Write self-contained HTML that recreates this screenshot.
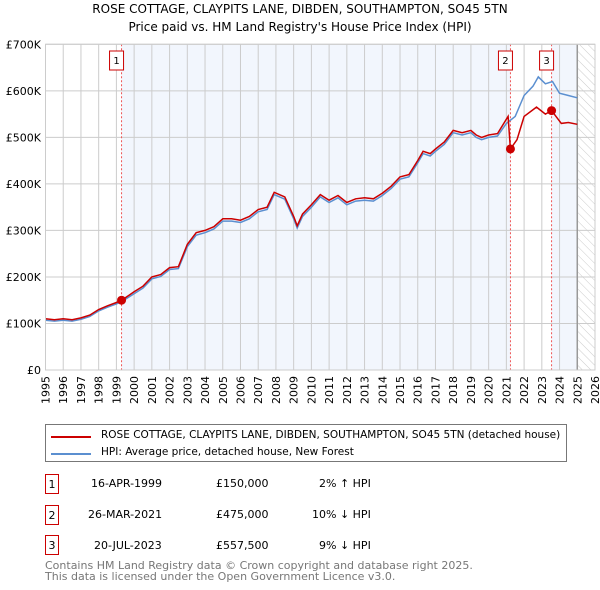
<!DOCTYPE html>
<html><head><meta charset="utf-8"><style>
body{margin:0;background:#fff;font-family:"DejaVu Sans","Liberation Sans",sans-serif;}
#wrap{position:relative;width:600px;height:590px;overflow:hidden}
.t{position:absolute;font-size:11px;color:#000;white-space:nowrap}
.box{position:absolute;border:1px solid #c00;width:14px;height:20px;font-size:11px;text-align:center;line-height:20px;box-sizing:border-box}
</style></head><body><div id="wrap">
<svg id="svg" width="600" height="420" style="position:absolute;left:0;top:0"></svg>
<div style="position:absolute;left:45px;top:424px;width:522px;height:38px;border:1px solid #777;box-sizing:border-box">
 <div style="position:absolute;left:5px;top:11px;width:40px;height:2px;background:#c00"></div>
 <div class="t" style="left:55px;top:4px;font-size:10.5px">ROSE COTTAGE, CLAYPITS LANE, DIBDEN, SOUTHAMPTON, SO45 5TN (detached house)</div>
 <div style="position:absolute;left:5px;top:28px;width:40px;height:2px;background:#5b8fd0"></div>
 <div class="t" style="left:55px;top:21px;font-size:10.5px">HPI: Average price, detached house, New Forest</div>
</div>
<div class="box" style="left:45px;top:474px">1</div>
<div class="t" style="left:91px;top:477px">16-APR-1999</div>
<div class="t" style="left:216px;top:477px">£150,000</div>
<div class="t" style="left:319px;top:477px">2% ↑ HPI</div>
<div class="box" style="left:45px;top:505px">2</div>
<div class="t" style="left:88px;top:508px">26-MAR-2021</div>
<div class="t" style="left:216px;top:508px">£475,000</div>
<div class="t" style="left:312px;top:508px">10% ↓ HPI</div>
<div class="box" style="left:45px;top:535px">3</div>
<div class="t" style="left:94px;top:539px">20-JUL-2023</div>
<div class="t" style="left:216px;top:539px">£557,500</div>
<div class="t" style="left:319px;top:539px">9% ↓ HPI</div>
<div class="t" style="left:45px;top:560px;color:#777;font-size:11px;line-height:11px">Contains HM Land Registry data © Crown copyright and database right 2025.<br>This data is licensed under the Open Government Licence v3.0.</div>
</div>
<script>
const hpiYears=[1995,1995.5,1996,1996.5,1997,1997.5,1998,1998.5,1999,1999.3,2000,2000.5,2001,2001.5,2002,2002.5,2003,2003.5,2004,2004.5,2005,2005.5,2006,2006.5,2007,2007.5,2007.9,2008.5,2009,2009.2,2009.5,2010,2010.5,2011,2011.5,2012,2012.5,2013,2013.5,2014,2014.5,2015,2015.5,2016,2016.3,2016.7,2017,2017.5,2018,2018.5,2019,2019.3,2019.6,2020,2020.5,2021,2021.5,2022,2022.5,2022.8,2023.2,2023.6,2024,2024.5,2025];
const hpiValues=[107,105,107,105,109,115,127,135,142,147,164,176,196,201,216,218,265,290,295,303,320,320,317,325,340,345,377,367,325,305,330,350,372,360,370,355,363,365,363,375,390,410,415,445,465,460,470,485,510,505,510,500,495,500,503,530,545,590,610,630,615,620,595,590,585];
const redYears=[1995,1995.5,1996,1996.5,1997,1997.5,1998,1998.5,1999,1999.3,2000,2000.5,2001,2001.5,2002,2002.5,2003,2003.5,2004,2004.5,2005,2005.5,2006,2006.5,2007,2007.5,2007.9,2008.5,2009,2009.2,2009.5,2010,2010.5,2011,2011.5,2012,2012.5,2013,2013.5,2014,2014.5,2015,2015.5,2016,2016.3,2016.7,2017,2017.5,2018,2018.5,2019,2019.3,2019.6,2020,2020.5,2021.1,2021.23,2021.6,2022,2022.7,2023.2,2023.55,2023.8,2024.1,2024.5,2025];
const redValues=[110,108,110,108,112,118,130,138,145,150,168,180,200,205,220,222,270,295,300,308,325,325,322,330,345,350,382,372,330,310,335,355,377,365,375,360,368,370,368,380,395,415,420,450,470,465,475,490,515,510,515,505,500,505,508,545,475,495,545,565,550,557.5,545,530,532,528];
const saleYears=[1999.29,2021.23,2023.55];
const saleValues=[150,475,557.5];
const saleLabels=["1","2","3"];
const yTicks=[0,100,200,300,400,500,600,700];
const yTickLabels=["£0","£100K","£200K","£300K","£400K","£500K","£600K","£700K"];
const xTicks=[1995,1996,1997,1998,1999,2000,2001,2002,2003,2004,2005,2006,2007,2008,2009,2010,2011,2012,2013,2014,2015,2016,2017,2018,2019,2020,2021,2022,2023,2024,2025,2026];
const X0=45.5,X1=595,Y0=370,Y1=44.3,XMIN=1995,XMAX=2026,YMAX=700;
const xs=v=>X0+(v-XMIN)/(XMAX-XMIN)*(X1-X0);
const ys=v=>Y0-v/YMAX*(Y0-Y1);
const svg=document.getElementById('svg');const NS='http://www.w3.org/2000/svg';
function mk(t,a,p){const e=document.createElementNS(NS,t);for(const k in a)e.setAttribute(k,a[k]);(p||svg).appendChild(e);return e;}
let e;
e=mk('defs',{});e.innerHTML='<pattern id="hatch" width="6" height="6" patternUnits="userSpaceOnUse" patternTransform="rotate(-45)"><line x1="0" y1="0" x2="0" y2="6" stroke="#ccc" stroke-width="1"/></pattern>';
e=mk('rect',{x:xs(saleYears[0]),y:Y1,width:xs(saleYears[1])-xs(saleYears[0]),height:Y0-Y1,fill:'#f2f6fd'});

e=mk('rect',{x:xs(saleYears[2]),y:Y1,width:xs(2025)-xs(saleYears[2]),height:Y0-Y1,fill:'#f2f6fd'});

e=mk('rect',{x:xs(2025),y:Y1,width:X1-xs(2025),height:Y0-Y1,fill:'url(#hatch)'});

xTicks.forEach(t=>{e=mk('line',{x1:xs(t),x2:xs(t),y1:Y1,y2:Y0,stroke:'#ccc','stroke-width':1});

const lx=xs(t)+4;
e=mk('text',{x:lx,y:376,'font-size':11,'text-anchor':'end','font-family':'DejaVu Sans, sans-serif',transform:'rotate(-90 '+lx+' 376)'});e.textContent=t;
});
yTicks.forEach((t,i)=>{e=mk('line',{x1:X0,x2:X1,y1:ys(t),y2:ys(t),stroke:'#ccc','stroke-width':1});

e=mk('text',{x:41,y:ys(t)+4,'font-size':11,'text-anchor':'end','font-family':'DejaVu Sans, sans-serif'});e.textContent=yTickLabels[i];
});
e=mk('line',{x1:xs(2025),x2:xs(2025),y1:Y1,y2:Y0,stroke:'#999','stroke-width':1.5});

saleYears.forEach(s=>{e=mk('line',{x1:xs(s),x2:xs(s),y1:Y1,y2:Y0,stroke:'#e55','stroke-width':1,'stroke-dasharray':'2,2'});
});
function path(xa,va){return xa.map((x,i)=>(i?'L':'M')+xs(x).toFixed(1)+','+ys(va[i]).toFixed(1)).join('');}
e=mk('path',{d:path(hpiYears,hpiValues),fill:'none',stroke:'#5b8fd0','stroke-width':1.5});

e=mk('path',{d:path(redYears,redValues),fill:'none',stroke:'#c00','stroke-width':1.5});

saleYears.forEach((s,i)=>{e=mk('circle',{cx:xs(s),cy:ys(saleValues[i]),r:4.5,fill:'#c00'});

e=mk('rect',{x:xs(s)-12,y:51,width:14,height:19,fill:'#fff',stroke:'#c00'});

e=mk('text',{x:xs(s)-5,y:64,'font-size':10,'text-anchor':'middle','font-family':'DejaVu Sans, sans-serif'});e.textContent=saleLabels[i];
});
e=mk('rect',{x:X0,y:Y1,width:X1-X0,height:Y0-Y1,fill:'none',stroke:'#ccc'});

e=mk('text',{x:300,y:13,'font-size':12,'text-anchor':'middle','font-family':'DejaVu Sans, sans-serif'});e.textContent='ROSE COTTAGE, CLAYPITS LANE, DIBDEN, SOUTHAMPTON, SO45 5TN';

e=mk('text',{x:300,y:31,'font-size':12,'text-anchor':'middle','font-family':'DejaVu Sans, sans-serif'});e.textContent="Price paid vs. HM Land Registry's House Price Index (HPI)";

</script></body></html>
